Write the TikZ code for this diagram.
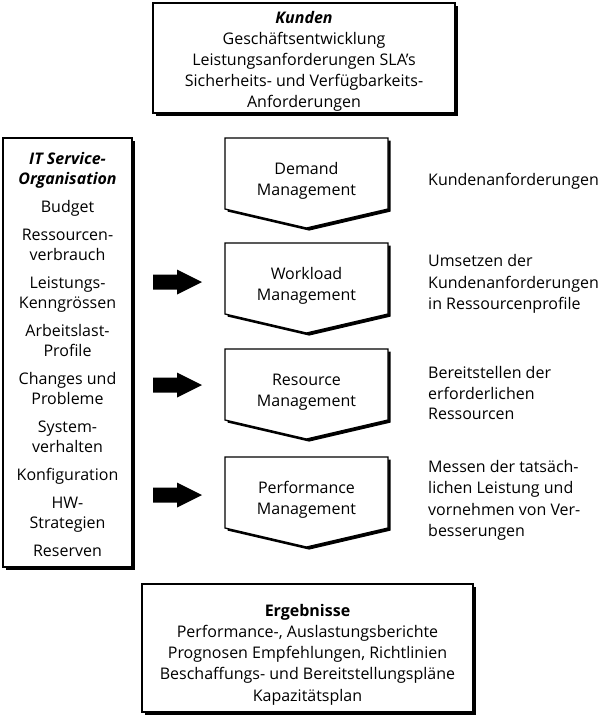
\documentclass[tikz,border=0pt]{standalone}
\usepackage{fontspec}
\setmainfont{Open Sans}
\usetikzlibrary{shadows}
\begin{document}
\begin{tikzpicture}[x=1pt,y=-1pt,
  txt/.style={font=\fontsize{16}{21}\selectfont, align=center, inner sep=0pt},
  sidetxt/.style={font=\fontsize{16}{21.5}\selectfont, align=left, anchor=west, inner sep=0pt},
  panel/.style={draw=black, line width=1.3pt, fill=white, inner sep=0pt,
    drop shadow={shadow xshift=2.6pt, shadow yshift=-2.6pt, opacity=1, fill=black}},
  stagefill/.style={draw=black, line width=1.3pt, fill=white},
  blockarrow/.style={fill=black}]
\useasboundingbox (0,0) rectangle (606,721);

% framed boxes
\node[panel, minimum width=302pt, minimum height=110pt] (kunden) at (304,58) {};
\node[txt] (kundentxt) at (304,61.5) {\textbf{\textit{Kunden}}\\Geschäftsentwicklung\\Leistungsanforderungen SLA’s\\Sicherheits- und Verfügbarkeits-\\Anforderungen};

\node[panel, minimum width=129pt, minimum height=429pt] (org) at (67.5,352.5) {};
\node[txt, font=\fontsize{16}{20}\selectfont] (orgtxt) at (67.5,354) {\textbf{\textit{IT Service-}}\\\textbf{\textit{Organisation}}\\[8pt]
  Budget\\[8pt]
  Ressourcen-\\verbrauch\\[8pt]
  Leistungs-\\Kenngrössen\\[8pt]
  Arbeitslast-\\Profile\\[8pt]
  Changes und\\Probleme\\[8pt]
  System-\\verhalten\\[8pt]
  Konfiguration\\[8pt]
  HW-\\Strategien\\[8pt]
  Reserven};

\node[panel, minimum width=331pt, minimum height=128pt] (erg) at (307.5,648) {};
\node[txt, font=\fontsize{16}{21.3}\selectfont] (ergtxt) at (307.5,654.5) {\textbf{Ergebnisse}\\Performance-, Auslastungsberichte\\Prognosen Empfehlungen, Richtlinien\\Beschaffungs- und Bereitstellungspläne\\Kapazitätsplan};

% process stages (downward pentagons)
\newcommand{\stagepath}[1]{(225,#1) -- (388,#1) -- (388,#1+71) -- (306.5,#1+90) -- (225,#1+71) -- cycle}
\foreach \nm/\t/\lbl in {dm/138/{Demand\\Management}, wm/243/{Workload\\Management}, rm/349/{Resource\\Management}, pm/457/{Performance\\Management}}{
  \fill[black] [shift={(2.6,2.6)}] \stagepath{\t};
  \draw[stagefill] \stagepath{\t};
  \node[txt] (\nm) at (306.5,\t+43) {\lbl};
}

% block arrows feeding the stages
\foreach \nm/\yy in {wm/282, rm/385, pm/495}{
  \coordinate (\nm-src) at (153,\yy);
  \fill[blockarrow] (\nm-src) ++(0,-7.5) -- ++(24,0) -- ++(0,-5) -- (202,\yy) -- ++(-25,12.5) -- ++(0,-5) -- ++(-24,0) -- cycle;
}

% descriptions
\node[sidetxt] (dmdesc) at (428,181) {Kundenanforderungen};
\node[sidetxt] (wmdesc) at (428,284) {Umsetzen der\\Kundenanforderungen\\in Ressourcenprofile};
\node[sidetxt, font=\fontsize{16}{20.5}\selectfont] (rmdesc) at (428,393) {Bereitstellen der\\erforderlichen\\Ressourcen};
\node[sidetxt] (pmdesc) at (428,500.5) {Messen der tatsäch-\\lichen Leistung und\\vornehmen von Ver-\\besserungen};
\end{tikzpicture}
\end{document}
